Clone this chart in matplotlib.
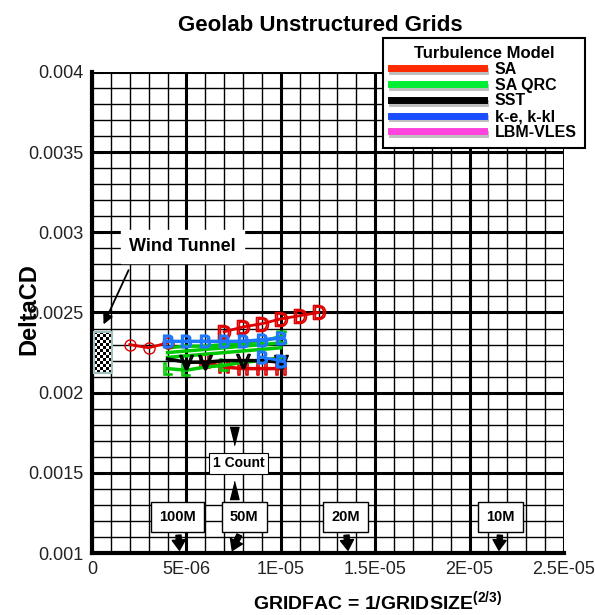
import matplotlib
matplotlib.use('Agg')
import matplotlib.pyplot as plt
import matplotlib.patheffects as pe
from matplotlib.lines import Line2D
from matplotlib.patches import Rectangle
import numpy as np

plt.rcParams['font.family'] = ['Liberation Sans', 'DejaVu Sans']
plt.rcParams['mathtext.fontset'] = 'custom'
plt.rcParams['mathtext.rm'] = 'Liberation Sans'
plt.rcParams['mathtext.sf'] = 'Liberation Sans'
plt.rcParams['mathtext.bf'] = 'Liberation Sans:bold'

## Data
sa_o_x = [2e-6, 3e-6, 4e-6]
sa_o_y = [0.00230, 0.00228, 0.00231]
sa_d_x = [7e-6, 8e-6, 9e-6, 10e-6, 11e-6, 12e-6]
sa_d_y = [0.00238, 0.00241, 0.00243, 0.00246, 0.00248, 0.00250]
sa_h_x = [6e-6, 7e-6, 8e-6, 9e-6, 10e-6]
sa_h_y = [0.00219, 0.00216, 0.00215, 0.00215, 0.00215]

grid_x = [4e-6, 5e-6, 6e-6, 7e-6, 8e-6, 9e-6, 10e-6]
qrc_z1_y = [0.00228, 0.00229, 0.00229, 0.00230, 0.00231, 0.00232, 0.00235]
qrc_z2_y = [0.00225, 0.00226, 0.00227, 0.00228, 0.00229, 0.00230, 0.00231]
qrc_z3_y = [0.00222, 0.00223, 0.00224, 0.00225, 0.00226, 0.00227, 0.00228]
qrc_l_y = [0.00215, 0.00214, 0.00216, 0.00217, 0.00219, 0.00220, 0.00222]
sst_y = [0.00221, 0.00219, 0.00219, 0.00220, 0.00220, 0.00220, 0.00219]
ke_y = [0.00232, 0.00232, 0.00232, 0.00232, 0.00232, 0.00233, 0.00234]
kkl_x = [9e-6, 10e-6]
kkl_y = [0.00222, 0.00220]

models = ['SA', 'SA QRC', 'SST', 'k-e, k-kl', 'LBM-VLES']
model_colors = ['#ff2a00', '#00ee33', '#000000', '#1a4dff', '#ff44dd']

grid_labels = ['100M', '50M', '20M', '10M']
grid_counts = [1e8, 5e7, 2e7, 1e7]

xticks = [0, 5e-6, 1e-5, 1.5e-5, 2e-5, 2.5e-5]
xticklabels = ['0', '5E-06', '1E-05', '1.5E-05', '2E-05', '2.5E-05']
yticks = [0.001, 0.0015, 0.002, 0.0025, 0.003, 0.0035, 0.004]
yticklabels = ['0.001', '0.0015', '0.002', '0.0025', '0.003', '0.0035', '0.004']

red = '#dd0000'
green = '#00c800'
blue = '#1e78ff'

fig = plt.figure(figsize=(5.95, 6.15), dpi=100)
ax = fig.add_axes([92/595, 1-553/615, 472/595, 481/615])

ax.set_xlim(0, 2.5e-5)
ax.set_ylim(0.001, 0.004)
ax.set_xticks(xticks)
ax.set_xticklabels(xticklabels)
ax.set_xticks(np.arange(0, 2.5e-5 + 1e-9, 1e-6), minor=True)
ax.set_yticks(yticks)
ax.set_yticklabels(yticklabels)
ax.set_yticks(np.arange(0.001, 0.004 + 1e-9, 0.0001), minor=True)
ax.tick_params(which='both', length=0, labelsize=13, labelcolor='#222222', pad=6)
ax.set_axisbelow(True)
ax.grid(which='major', color='black', lw=2.2)
ax.grid(which='minor', color='black', lw=1.0)
for s in ['top', 'right']:
    ax.spines[s].set_visible(False)
for s in ['left', 'bottom']:
    ax.spines[s].set_linewidth(3)

def mk(ch):
    return r'$\mathsf{%s}$' % ch

# SA
ax.plot(sa_o_x, sa_o_y, color=red, lw=2, marker='o', mfc='none', mec=red, ms=8, zorder=4)
ax.plot(sa_d_x, sa_d_y, color=red, lw=2, marker=mk('D'), mfc='none', mew=1.2, ms=10, zorder=4)
ax.plot(sa_h_x, sa_h_y, color=red, lw=2.5, marker=mk('H'), mfc='none', mew=1.2, ms=9, zorder=3)
# SA QRC
ax.plot(grid_x, qrc_z1_y, color=green, lw=2.5, marker=mk('Z'), mfc='none', mew=1.2, ms=9,
        markevery=[6], zorder=3)
ax.plot(grid_x, qrc_z2_y, color=green, lw=2.5, zorder=3)
ax.plot(grid_x, qrc_z3_y, color=green, lw=2.5, zorder=3)
ax.plot(grid_x, qrc_l_y, color=green, lw=2.5, marker=mk('L'), mfc='none', mew=1.2, ms=9,
        markevery=[0, 1, 3], zorder=3)
# SST
ax.plot(grid_x, sst_y, color='black', lw=2.5, marker=mk('V'), mfc='none', mew=1.2, ms=10,
        markevery=[1, 2, 4, 6], zorder=4)
# k-e, k-kl
ax.plot(grid_x, ke_y, color=blue, lw=2.5, marker=mk('B'), mfc='none', mew=1.2, ms=9, zorder=4)
ax.plot(kkl_x, kkl_y, color=blue, lw=2, marker=mk('B'), mfc='none', mew=1.2, ms=9, zorder=4)

# wind tunnel band
wt_x0, wt_x1, wt_y0, wt_y1 = 0.1e-6, 1.05e-6, 0.00212, 0.00238
checker = np.indices((14, 6)).sum(axis=0) % 2
ax.imshow(checker, extent=[wt_x0, wt_x1, wt_y0, wt_y1], cmap='gray',
          interpolation='nearest', aspect='auto', zorder=5)
ax.add_patch(Rectangle((wt_x0, wt_y0), wt_x1 - wt_x0, wt_y1 - wt_y0,
                       fill=False, ec='#9fbfbf', lw=1.5, zorder=6))
ax.set_xlim(0, 2.5e-5)
ax.set_ylim(0.001, 0.004)

ax.text(4.8e-6, 0.00291, 'Wind Tunnel', fontsize=13, fontweight='bold', ha='center', va='center',
        bbox=dict(boxstyle='square,pad=0.45', fc='white', ec='white'), zorder=7)
ax.annotate('', xy=(0.55e-6, 0.00241), xytext=(2.0e-6, 0.00278),
            arrowprops=dict(arrowstyle='-|>,head_length=0.6,head_width=0.3', color='black', lw=1.3),
            zorder=7)

# 1 count marker
ax.text(7.75e-6, 0.00156, '1 Count', fontsize=10, fontweight='bold', ha='center', va='center',
        bbox=dict(boxstyle='square,pad=0.25', fc='white', ec='black', lw=0.8), zorder=7)
ax.plot([7.5e-6], [0.00173], marker=[(-1, 2), (1, 2), (0, -2)], color='black', ms=13, zorder=7)
ax.plot([7.5e-6], [0.00139], marker=[(-1, -2), (1, -2), (0, 2)], color='black', ms=13, zorder=7)

# grid size markers
offsets = [-0.1e-6, 0.7e-6, -0.15e-6, 0.1e-6]
for lab, n, dx in zip(grid_labels, grid_counts, offsets):
    gx = n ** (-2.0 / 3.0)
    ax.annotate(lab, xy=(gx, 0.001), xytext=(gx + dx, 0.001225),
                fontsize=10.5, fontweight='bold', ha='center', va='center',
                bbox=dict(boxstyle='square,pad=0.55', fc='white', ec='black', lw=1),
                arrowprops=dict(arrowstyle='simple,head_width=0.9,head_length=0.7,tail_width=0.35',
                                fc='black', ec='black', relpos=(0.5, 0)),
                zorder=7, annotation_clip=False)

# legend
handles = [Line2D([0], [0], color=c, lw=5,
                  path_effects=[pe.SimpleLineShadow(offset=(1, -2), shadow_color='gray', alpha=0.5),
                                pe.Normal()])
           for c in model_colors]
leg = fig.legend(handles, models, loc='upper left', bbox_to_anchor=(383/595, 1-38/615),
                 title='Turbulence Model', prop={'weight': 'bold', 'size': 11.5},
                 title_fontproperties={'weight': 'bold', 'size': 12},
                 handlelength=5.8, handletextpad=0.7, labelspacing=0.05,
                 borderpad=0.5, borderaxespad=0, fancybox=False, framealpha=1,
                 edgecolor='black')
leg.get_frame().set_linewidth(1.5)

fig.text(0.538, 0.959, 'Geolab Unstructured Grids', fontsize=16, fontweight='bold',
         ha='center', va='center')
fig.text(0.635, 0.021, r'GRIDFAC = 1/GRIDSIZE$^{\mathbf{(2/3)}}$', fontsize=14,
         fontweight='bold', ha='center', va='center')
fig.text(0.049, 0.498, 'DeltaCD', fontsize=17, fontweight='bold', rotation=90,
         ha='center', va='center')

fig.savefig('out.png', dpi=100)
